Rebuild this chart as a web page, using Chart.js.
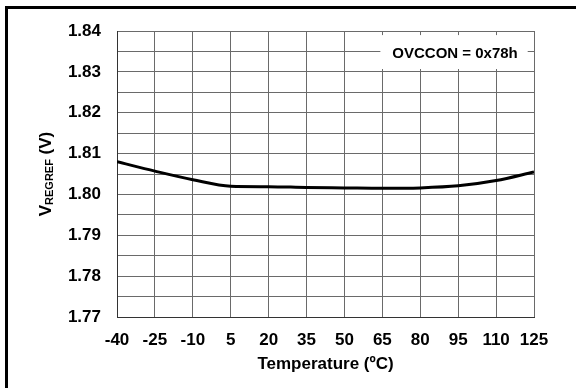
<!DOCTYPE html>
<html lang="en">
<head>
  <meta charset="UTF-8">
  <title>VREGREF vs Temperature</title>
  <script src="https://cdn.jsdelivr.net/npm/chart.js"></script>
  <style>
    html, body { margin: 0; padding: 0; background: #fff; }
    #wrap { width: 576px; height: 388px; position: relative; }
  </style>
</head>
<body>
  <div id="wrap"><canvas id="chartVref"></canvas></div>

  <script>
    // data
    const temps = [-40, -25, -10, 5, 20, 35, 50, 65, 80, 95, 110, 125];
    const vref = [1.8080, 1.8057, 1.8036, 1.8020, 1.8019, 1.8017, 1.8016, 1.8015, 1.8016, 1.8021, 1.8034, 1.8055];
    const xTicks = [-40, -25, -10, 5, 20, 35, 50, 65, 80, 95, 110, 125];
    const yTicks = [1.77, 1.775, 1.78, 1.785, 1.79, 1.795, 1.80, 1.805, 1.81, 1.815, 1.82, 1.825, 1.83, 1.835, 1.84];
    const noteText = 'OVCCON = 0x78h';

    const FONT = 'Arial, "Liberation Sans", sans-serif';

    // outer frame, y title with subscript, note box
    const extras = {
      id: 'extras',
      afterDraw(chart) {
        const ctx = chart.ctx, a = chart.chartArea;
        ctx.save();
        // frame (top + left only are visible)
        ctx.fillStyle = '#000';
        ctx.fillRect(5, 6, 576 - 5, 3);
        ctx.fillRect(5, 6, 3, 388 - 6);

        // note box
        const xs = chart.scales.x, ys = chart.scales.y;
        const bx = xs.getPixelForValue(65) - 2, bx2 = xs.getPixelForValue(122.5);
        const by = ys.getPixelForValue(1.8390), by2 = ys.getPixelForValue(1.8307);
        ctx.fillStyle = '#fff';
        ctx.fillRect(bx, by, bx2 - bx, by2 - by);
        ctx.fillStyle = '#000';
        ctx.font = 'bold 15px ' + FONT;
        ctx.textAlign = 'center';
        ctx.textBaseline = 'middle';
        ctx.fillText(noteText, (bx + bx2) / 2 + 1, 54);

        // y title: V_REGREF (V)
        const big = 'bold 17px ' + FONT, small = 'bold 11px ' + FONT;
        ctx.font = big; const w1 = ctx.measureText('V').width, w3 = ctx.measureText(' (V)').width;
        ctx.font = small; const w2 = ctx.measureText('REGREF').width;
        const total = w1 + w2 + w3;
        ctx.translate(51, (a.top + a.bottom) / 2);
        ctx.rotate(-Math.PI / 2);
        ctx.textAlign = 'left';
        ctx.textBaseline = 'alphabetic';
        let x = -total / 2;
        ctx.font = big; ctx.fillText('V', x, 0); x += w1;
        ctx.font = small; ctx.fillText('REGREF', x, 2); x += w2;
        ctx.font = big; ctx.fillText(' (V)', x, 0);
        ctx.restore();
      }
    };

    new Chart(document.getElementById('chartVref'), {
      type: 'line',
      data: {
        datasets: [{
          data: temps.map((t, i) => ({ x: t, y: vref[i] })),
          borderColor: '#000',
          borderWidth: 3,
          pointRadius: 0,
          fill: false,
          cubicInterpolationMode: 'monotone'
        }]
      },
      options: {
        responsive: true,
        maintainAspectRatio: false,
        animation: false,
        layout: { padding: { top: 31, right: 42, bottom: 0, left: 0 } },
        plugins: { legend: { display: false }, tooltip: { enabled: false } },
        scales: {
          x: {
            type: 'linear', min: -40, max: 125,
            afterBuildTicks: s => { s.ticks = xTicks.map(v => ({ value: v })); },
            afterFit: s => { s.height = 71; },
            grid: { color: '#6a6a6a', lineWidth: 1, drawTicks: false },
            border: { color: '#333', width: 1 },
            ticks: { color: '#000', padding: 13, maxRotation: 0, autoSkip: false,
                     font: { family: FONT, size: 17, weight: 'bold' } },
            title: { display: true, text: 'Temperature (ºC)', color: '#000',
                     padding: { top: 0, bottom: 13 },
                     font: { family: FONT, size: 17, weight: 'bold' } }
          },
          y: {
            min: 1.77, max: 1.84,
            afterBuildTicks: s => { s.ticks = yTicks.map(v => ({ value: v })); },
            afterFit: s => { s.width = 117; },
            grid: { color: '#6a6a6a', lineWidth: 1, drawTicks: false },
            border: { color: '#333', width: 1 },
            ticks: { color: '#000', padding: 16, autoSkip: false,
                     callback: (v, i) => i % 2 === 0 ? v.toFixed(2) : '',
                     font: { family: FONT, size: 17, weight: 'bold' } }
          }
        }
      },
      plugins: [extras]
    });
  </script>
</body>
</html>
